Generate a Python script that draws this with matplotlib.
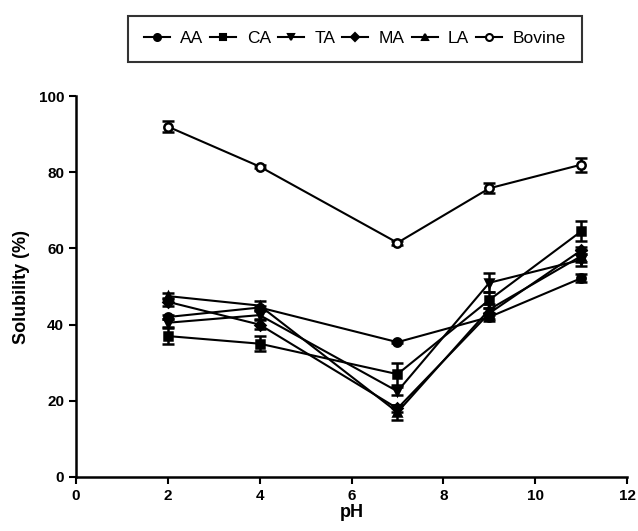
import numpy as np
import matplotlib
matplotlib.use("Agg")
import matplotlib.pyplot as plt
from matplotlib.lines import Line2D

plt.rcParams['font.family'] = ['Liberation Sans', 'DejaVu Sans']

# solubility vs pH
pH = [2, 4, 7, 9, 11]
AA = [42.0, 44.5, 35.4, 42.0, 52.2]
CA = [37.0, 35.0, 27.0, 46.5, 64.5]
TA = [40.5, 42.5, 22.5, 51.0, 57.0]
MA = [46.0, 40.0, 18.0, 43.0, 59.5]
LA = [47.5, 45.0, 17.0, 44.0, 58.0]
Bovine = [92.0, 81.5, 61.5, 75.8, 82.0]

AA_err = [0.5, 0.5, 0.3, 1.0, 1.0]
CA_err = [2.0, 2.0, 2.8, 2.0, 2.6]
TA_err = [1.0, 1.0, 1.0, 2.5, 1.5]
MA_err = [1.0, 1.2, 1.0, 1.5, 1.0]
LA_err = [0.8, 1.2, 2.0, 1.5, 1.5]
Bovine_err = [1.5, 0.5, 0.5, 1.3, 1.8]

series = [
    ("AA", AA, AA_err, "o", "black"),
    ("CA", CA, CA_err, "s", "black"),
    ("TA", TA, TA_err, "v", "black"),
    ("MA", MA, MA_err, "D", "black"),
    ("LA", LA, LA_err, "^", "black"),
    ("Bovine", Bovine, Bovine_err, "o", "white"),
]

fig = plt.figure(figsize=(6.38, 5.31), dpi=100)
ax = fig.add_axes([0.119, 0.1017, 0.864, 0.7173])

handles = []
for name, vals, err, mk, fc in series:
    ms = 5 if mk == "D" else 6
    ax.errorbar(pH, vals, yerr=err, marker=mk, color="black", mfc=fc,
                mec="black", mew=1.8, ms=ms, lw=1.5, capsize=4,
                elinewidth=1.8, capthick=1.8)
    handles.append(Line2D([], [], marker=mk, color="black", mfc=fc, mec="black",
                          mew=1.5, ms=ms - 1, lw=1.5, label=name))

ax.set_xlim(0, 12)
ax.set_ylim(0, 100)
ax.set_xticks(range(0, 13, 2))
ax.set_yticks(range(0, 101, 20))
for s in ["top", "right"]:
    ax.spines[s].set_visible(False)
for s in ["left", "bottom"]:
    ax.spines[s].set_linewidth(1.8)
ax.tick_params(width=1.5, length=5, labelsize=11, direction="out")
for lab in ax.get_xticklabels() + ax.get_yticklabels():
    lab.set_fontweight("bold")

ax.set_xlabel("pH", fontsize=13, fontweight="bold", labelpad=1)
ax.set_ylabel("Solubility (%)", fontsize=13, fontweight="bold", labelpad=6)

leg = fig.legend(handles=handles, loc="center", bbox_to_anchor=(0.556, 0.927),
                 ncol=6, fontsize=12.5, frameon=True, fancybox=False,
                 edgecolor="black", handlelength=1.5, handletextpad=0.6,
                 columnspacing=0.4, borderpad=0.9)
leg.get_frame().set_linewidth(1.5)

fig.savefig("out.png", dpi=100)
